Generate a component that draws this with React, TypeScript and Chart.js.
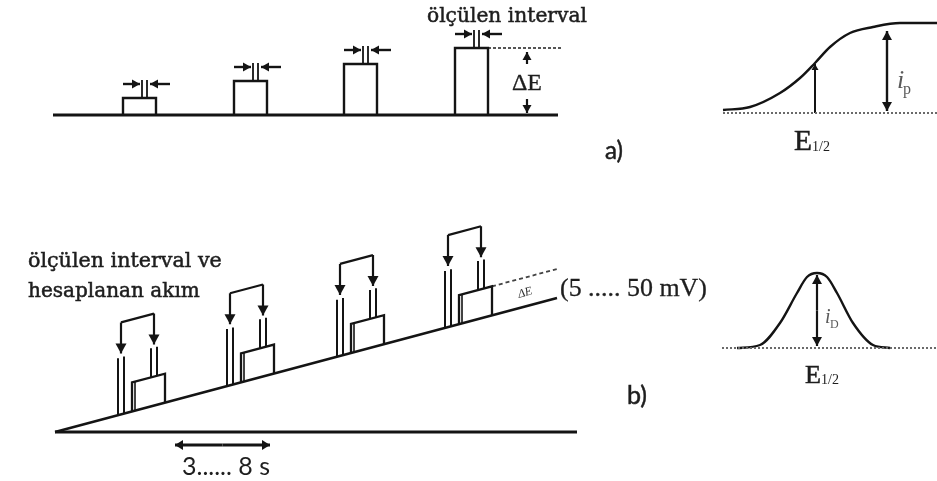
import { useEffect, useRef } from "react";
import { Chart, registerables } from "chart.js";

Chart.register(...registerables);

const CANVAS_W = 937;
const CANVAS_H = 481;
const INK = "#141414";
const TEXT_INK = "#1e1e1e";

// ---------- panel a: staircase pulses ----------
const A_BASE_X = [53, 558];
const A_BASE_Y = 115;
const A_PULSE_LEFT = [123, 234, 344, 455];
const A_PULSE_HEIGHT = [17, 34, 51, 67];
const A_PULSE_WIDTH = 33;
const A_DASH_END = 563;
const A_DELTA_X = 527;

// ---------- panel a, right: sigmoid (current vs potential) ----------
const SIG_X = [723, 750, 780, 800, 815, 830, 850, 873, 900, 937];
const SIG_Y = [110, 107, 93, 78, 63, 47, 33, 27, 23, 23];
const SIG_BASE_X = [723, 937];
const SIG_BASE_Y = 113;
const SIG_HALF_X = 815;
const SIG_IP_X = 887;
const SIG_IP_Y = [31, 111];

// ---------- panel b: ramp with pulses ----------
const B_RAMP_X = [55, 557];
const B_RAMP_Y = [432, 298];
const B_BASE_X = [55, 577];
const B_PULSE_LEFT = [132, 241, 351, 459];
const B_PULSE_WIDTH = 33;
const B_PULSE_HEIGHT = 29;
const B_DASH_END = 558;
const B_TIME_X = [175, 270];
const B_TIME_Y = 445;

// ---------- panel b, right: peak ----------
const PEAK_X = [737, 760, 780, 797, 807, 817, 827, 837, 853, 873, 890];
const PEAK_Y = [348, 345, 323, 293, 277, 273, 277, 293, 323, 345, 348];
const PEAK_BASE_X = [722, 937];
const PEAK_BASE_Y = 348;
const PEAK_ID_X = 817;
const PEAK_ID_Y = [275, 346];

const ramp = (x: number) =>
  B_RAMP_Y[0] + ((x - B_RAMP_X[0]) * (B_RAMP_Y[1] - B_RAMP_Y[0])) / (B_RAMP_X[1] - B_RAMP_X[0]);

type Pt = [number, number];
type Arrow = { from: Pt; to: Pt; len?: number; half?: number };
type TextSpec = {
  t: string; x: number; y: number; family: string; size: number; w?: number;
  color?: string; align?: CanvasTextAlign; rot?: number; italic?: boolean; bold?: boolean; thick?: number;
};

function buildScene() {
  const datasets: any[] = [];
  const arrows: Arrow[] = [];
  const line = (pts: Pt[], w = 2, dash: number[] = [], color = INK, smooth = false) => {
    datasets.push({
      data: pts.map(([x, y]) => ({ x, y })),
      showLine: true,
      borderColor: color,
      borderWidth: w,
      borderDash: dash,
      pointRadius: 0,
      pointHoverRadius: 0,
      fill: false,
      tension: smooth ? 0.4 : 0,
      cubicInterpolationMode: smooth ? "monotone" : "default",
    });
  };
  const arrow = (from: Pt, to: Pt, w = 2, len = 7, half = 4) => {
    line([from, to], w);
    arrows.push({ from, to, len, half });
  };

  // ----- panel a -----
  line([[A_BASE_X[0], A_BASE_Y], [A_BASE_X[1], A_BASE_Y]], 2.8);
  A_PULSE_LEFT.forEach((L, i) => {
    const top = A_BASE_Y - A_PULSE_HEIGHT[i];
    line([[L, A_BASE_Y], [L, top], [L + A_PULSE_WIDTH, top], [L + A_PULSE_WIDTH, A_BASE_Y]], 2.4);
    line([[L + 19, top], [L + 19, top - 18]], 1.8);
    line([[L + 24, top], [L + 24, top - 18]], 1.8);
    const ay = top - 14;
    arrow([L, ay], [L + 17, ay], 2.4, 8, 4.5);
    arrow([L + 47, ay], [L + 27, ay], 2.4, 8, 4.5);
  });
  const lastTop = A_BASE_Y - A_PULSE_HEIGHT[A_PULSE_HEIGHT.length - 1];
  const lastL = A_PULSE_LEFT[A_PULSE_LEFT.length - 1];
  line([[lastL + A_PULSE_WIDTH, lastTop], [A_DASH_END, lastTop]], 1.8, [3, 2], "#555");
  arrow([A_DELTA_X, lastTop + 16], [A_DELTA_X, lastTop + 4], 2.2, 8, 4.5);
  arrow([A_DELTA_X, A_BASE_Y - 16], [A_DELTA_X, A_BASE_Y - 2], 2.2, 8, 4.5);

  // sigmoid
  line([[SIG_BASE_X[0], SIG_BASE_Y], [SIG_BASE_X[1], SIG_BASE_Y]], 2, [2, 2], "#6a6a6a");
  line(SIG_X.map((x, i) => [x, SIG_Y[i]] as Pt), 2.4, [], INK, true);
  arrow([SIG_HALF_X, SIG_BASE_Y], [SIG_HALF_X, 64], 2, 6, 3.5);
  const ipMid = (SIG_IP_Y[0] + SIG_IP_Y[1]) / 2;
  arrow([SIG_IP_X, ipMid], [SIG_IP_X, SIG_IP_Y[0]], 2.4, 9, 5);
  arrow([SIG_IP_X, ipMid], [SIG_IP_X, SIG_IP_Y[1]], 2.4, 9, 5);

  // ----- panel b -----
  line([[B_BASE_X[0], ramp(B_BASE_X[0])], [B_BASE_X[1], ramp(B_BASE_X[0])]], 3.2);
  line([[B_RAMP_X[0], B_RAMP_Y[0]], [B_RAMP_X[1], B_RAMP_Y[1]]], 2.6);
  B_PULSE_LEFT.forEach((L) => {
    const R = L + B_PULSE_WIDTH;
    for (const lx of [L - 14, L - 8]) line([[lx, ramp(lx)], [lx, ramp(lx) - 57]], 2);
    line([[L, ramp(L)], [L, ramp(L) - B_PULSE_HEIGHT], [R, ramp(R) - B_PULSE_HEIGHT], [R, ramp(R)]], 2.3);
    line([[L + 3, ramp(L + 3)], [L + 3, ramp(L + 3) - B_PULSE_HEIGHT]], 1.6);
    for (const rx of [L + 19, L + 25]) line([[rx, ramp(rx) - B_PULSE_HEIGHT], [rx, ramp(rx) - 58]], 2);
    const bl = L - 11, br = L + 22;
    line([[bl, ramp(bl) - 92], [br, ramp(br) - 92]], 2.2);
    arrow([bl, ramp(bl) - 92], [bl, ramp(bl) - 61], 2.2, 10, 5.5);
    arrow([br, ramp(br) - 92], [br, ramp(br) - 61], 2.2, 10, 5.5);
  });
  const lastB = B_PULSE_LEFT[B_PULSE_LEFT.length - 1] + B_PULSE_WIDTH;
  line([[lastB, ramp(lastB) - B_PULSE_HEIGHT], [B_DASH_END, ramp(B_DASH_END) - B_PULSE_HEIGHT]], 1.8, [4, 3], "#444");
  const tMid = (B_TIME_X[0] + B_TIME_X[1]) / 2;
  arrow([tMid, B_TIME_Y], [B_TIME_X[0], B_TIME_Y], 3, 8, 5);
  arrow([tMid, B_TIME_Y], [B_TIME_X[1], B_TIME_Y], 3, 8, 5);

  // peak
  line([[PEAK_BASE_X[0], PEAK_BASE_Y], [PEAK_BASE_X[1], PEAK_BASE_Y]], 2, [2, 2], "#6a6a6a");
  line(PEAK_X.map((x, i) => [x, PEAK_Y[i]] as Pt), 2.4, [], INK, true);
  const idMid = (PEAK_ID_Y[0] + PEAK_ID_Y[1]) / 2;
  arrow([PEAK_ID_X, idMid], [PEAK_ID_X, PEAK_ID_Y[0]], 2.2, 9, 5);
  arrow([PEAK_ID_X, idMid], [PEAK_ID_X, PEAK_ID_Y[1]], 2.2, 9, 5);

  return { datasets, arrows };
}

const SERIF = "'DejaVu Serif', serif";
const TIMES = "'Liberation Serif', serif";
const SANS = "Lato, 'Open Sans', sans-serif";

const TEXTS: TextSpec[] = [
  { t: "ölçülen interval", x: 427, y: 22, family: SERIF, size: 16, w: 160, thick: 0.5 },
  { t: "ΔE", x: 512, y: 90, family: TIMES, size: 22, w: 30, thick: 0.3 },
  { t: "a)", x: 605, y: 159, family: SANS, size: 18, w: 18, thick: 0.5 },
  { t: "E", x: 794, y: 150, family: TIMES, size: 21, w: 18, thick: 0.5 },
  { t: "1/2", x: 812, y: 151, family: TIMES, size: 12, w: 18 },
  { t: "i", x: 897, y: 88, family: TIMES, size: 26, italic: true, color: "#5a5a5a" },
  { t: "p", x: 903, y: 94, family: TIMES, size: 16, color: "#5a5a5a" },
  { t: "ölçülen interval ve", x: 28, y: 267, family: SERIF, size: 17, w: 194, thick: 0.5 },
  { t: "hesaplanan akım", x: 28, y: 297, family: SERIF, size: 17, w: 172, thick: 0.5 },
  { t: "(5 ..... 50 mV)", x: 560, y: 296, family: TIMES, size: 20, w: 147, thick: 0.3 },
  { t: "3...... 8 s", x: 182, y: 475, family: SANS, size: 22, w: 88 },
  { t: "b)", x: 627, y: 404, family: SANS, size: 18, w: 20, thick: 0.5 },
  { t: "E", x: 805, y: 383, family: TIMES, size: 21, w: 16, thick: 0.5 },
  { t: "1/2", x: 821, y: 384, family: TIMES, size: 12, w: 18 },
  { t: "i", x: 825, y: 323, family: TIMES, size: 20, italic: true, color: "#5a5a5a" },
  { t: "D", x: 830, y: 328, family: TIMES, size: 12, color: "#5a5a5a" },
  { t: "ΔE", x: 519, y: 298, family: TIMES, size: 12, italic: true, color: "#333", rot: -0.27 },
];

export default function App() {
  const ref = useRef<HTMLCanvasElement | null>(null);
  useEffect(() => {
    if (!ref.current) return;
    const { datasets, arrows } = buildScene();
    const annot = {
      id: "annot",
      afterDatasetsDraw(chart: any) {
        const { ctx } = chart;
        const xs = chart.scales.x, ys = chart.scales.y;
        const px = (v: number) => xs.getPixelForValue(v);
        const py = (v: number) => ys.getPixelForValue(v);
        ctx.save();
        ctx.fillStyle = INK;
        for (const a of arrows) {
          const x1 = px(a.from[0]), y1 = py(a.from[1]);
          const x2 = px(a.to[0]), y2 = py(a.to[1]);
          const ang = Math.atan2(y2 - y1, x2 - x1);
          const c = Math.cos(ang), s = Math.sin(ang);
          const L = a.len ?? 7, H = a.half ?? 4;
          ctx.beginPath();
          ctx.moveTo(x2, y2);
          ctx.lineTo(x2 - L * c + H * s, y2 - L * s - H * c);
          ctx.lineTo(x2 - L * c - H * s, y2 - L * s + H * c);
          ctx.closePath();
          ctx.fill();
        }
        for (const t of TEXTS) {
          const style = `${t.italic ? "italic " : ""}${t.bold ? "bold " : ""}`;
          let size = t.size;
          ctx.font = `${style}${size}px ${t.family}`;
          if (t.w) {
            const m = ctx.measureText(t.t).width;
            if (m > 0) size = (size * t.w) / m;
            ctx.font = `${style}${size}px ${t.family}`;
          }
          const col = t.color ?? TEXT_INK;
          ctx.fillStyle = col;
          ctx.textAlign = t.align ?? "left";
          ctx.textBaseline = "alphabetic";
          ctx.save();
          ctx.translate(px(t.x), py(t.y));
          if (t.rot) ctx.rotate(t.rot);
          ctx.fillText(t.t, 0, 0);
          if (t.thick) {
            ctx.strokeStyle = col;
            ctx.lineWidth = t.thick;
            ctx.strokeText(t.t, 0, 0);
          }
          ctx.restore();
        }
        ctx.restore();
      },
    };
    const chart = new Chart(ref.current, {
      type: "scatter",
      data: { datasets },
      options: {
        responsive: false,
        maintainAspectRatio: false,
        animation: false,
        events: [],
        layout: { padding: 0 },
        plugins: { legend: { display: false }, tooltip: { enabled: false } },
        scales: {
          x: { type: "linear", min: 0, max: CANVAS_W, display: false },
          y: { type: "linear", min: 0, max: CANVAS_H, reverse: true, display: false },
        },
      },
      plugins: [annot],
    } as any);
    return () => chart.destroy();
  }, []);
  return (
    <div style={{ position: "fixed", left: 0, top: 0, width: CANVAS_W, height: CANVAS_H, background: "#fff" }}>
      <canvas ref={ref} width={CANVAS_W} height={CANVAS_H} style={{ display: "block" }} />
    </div>
  );
}
